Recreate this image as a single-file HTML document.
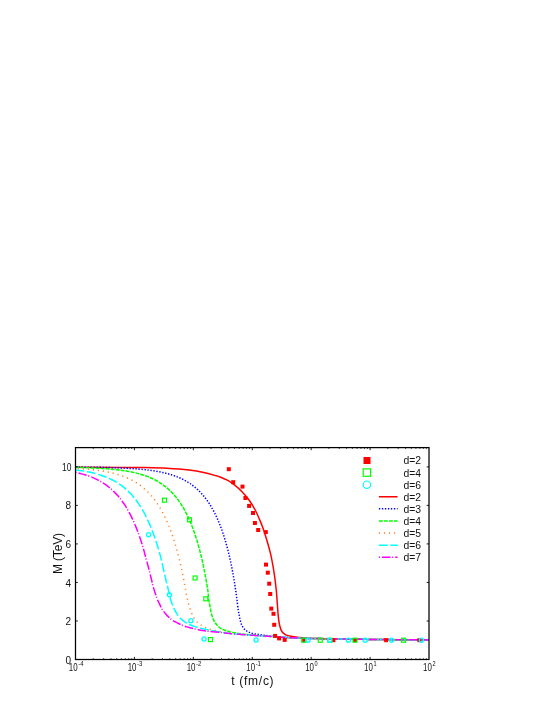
<!DOCTYPE html>
<html><head><meta charset="utf-8"><title>M(t)</title>
<style>html,body{margin:0;padding:0;background:#fff;}body{width:545px;height:705px;position:relative;overflow:hidden;font-family:"Liberation Sans",sans-serif;}</style>
</head><body>
<svg width="545" height="705" viewBox="0 0 545 705" style="position:absolute;left:0;top:0;will-change:transform">
<defs><clipPath id="c"><rect x="75.5" y="447.6" width="353.5" height="211.89999999999998"/></clipPath></defs>
<g clip-path="url(#c)" fill="none" stroke-linecap="butt" stroke-linejoin="round">
<path d="M75.50 467.30 C90.33 467.33 107.29 467.36 120.00 467.40 C129.53 467.43 136.93 467.36 145.00 467.50 C152.57 467.64 159.67 467.77 167.00 468.20 C174.34 468.63 182.42 469.26 189.00 470.10 C194.41 470.79 199.09 471.62 203.70 472.60 C207.87 473.48 212.51 474.75 215.50 475.60 C217.36 476.13 218.34 476.38 220.00 477.00 C222.16 477.81 224.91 478.90 227.30 480.20 C229.82 481.57 232.31 483.24 234.70 485.10 C237.22 487.05 239.64 489.25 242.00 491.70 C244.55 494.34 247.19 497.42 249.40 500.50 C251.58 503.53 253.48 506.77 255.20 510.00 C256.87 513.14 258.33 516.64 259.60 519.60 C260.67 522.10 261.48 524.11 262.40 526.60 C263.42 529.38 264.31 531.96 265.40 535.50 C266.98 540.61 269.21 547.94 270.70 554.40 C272.23 561.06 273.42 568.41 274.40 574.90 C275.27 580.71 275.89 586.28 276.40 591.50 C276.86 596.15 277.07 600.43 277.40 604.70 C277.71 608.72 277.87 612.70 278.30 616.40 C278.69 619.77 279.07 623.23 279.80 626.00 C280.39 628.21 280.91 630.29 282.00 631.80 C282.96 633.12 284.19 634.04 285.70 634.80 C287.51 635.71 289.77 636.02 292.30 636.50 C295.63 637.12 299.87 637.56 304.00 637.90 C308.61 638.29 313.35 638.43 318.70 638.60 C325.14 638.80 332.29 638.78 340.00 638.90 C349.15 639.04 360.00 639.27 370.00 639.40 C380.00 639.53 390.13 639.62 400.00 639.70 C409.62 639.78 419.00 639.83 428.50 639.90" stroke="#ff0000" stroke-width="1.5"/>
<path d="M75.50 467.05 C80.81 467.10 86.04 467.13 91.44 467.21 C97.01 467.29 103.50 467.41 108.44 467.54 C112.25 467.63 115.47 467.74 118.55 467.86 C121.16 467.96 123.52 468.07 125.78 468.19 C127.77 468.29 129.62 468.40 131.40 468.51 C133.01 468.62 134.29 468.70 136.00 468.84 C138.15 469.01 141.00 469.26 143.27 469.49 C145.27 469.70 147.13 469.92 148.92 470.14 C150.53 470.35 151.92 470.54 153.53 470.80 C155.32 471.08 157.39 471.43 159.17 471.78 C160.79 472.09 162.31 472.41 163.78 472.75 C165.13 473.07 166.34 473.37 167.67 473.73 C169.09 474.12 170.59 474.56 172.06 475.04 C173.58 475.53 175.19 476.10 176.65 476.67 C178.00 477.19 179.23 477.71 180.52 478.30 C181.84 478.90 183.17 479.56 184.48 480.26 C185.80 480.97 187.16 481.76 188.40 482.54 C189.59 483.28 190.65 484.00 191.79 484.82 C192.99 485.70 194.24 486.67 195.40 487.65 C196.56 488.62 197.69 489.65 198.75 490.68 C199.78 491.67 200.72 492.65 201.68 493.71 C202.67 494.80 203.66 495.97 204.59 497.12 C205.49 498.24 206.34 499.38 207.17 500.53 C207.97 501.66 208.74 502.79 209.48 503.94 C210.21 505.07 210.89 506.17 211.57 507.35 C212.29 508.57 213.01 509.87 213.69 511.14 C214.35 512.39 214.99 513.66 215.61 514.92 C216.22 516.18 216.80 517.45 217.37 518.71 C217.93 519.97 218.47 521.24 218.99 522.50 C219.51 523.76 220.01 525.02 220.49 526.29 C220.97 527.55 221.44 528.81 221.89 530.08 C222.33 531.34 222.76 532.57 223.19 533.87 C223.64 535.22 224.09 536.64 224.52 538.03 C224.95 539.42 225.36 540.81 225.76 542.20 C226.16 543.59 226.55 544.98 226.92 546.37 C227.30 547.76 227.66 549.14 228.01 550.53 C228.36 551.92 228.70 553.31 229.03 554.70 C229.36 556.09 229.68 557.48 229.99 558.87 C230.30 560.26 230.60 561.65 230.89 563.04 C231.18 564.42 231.47 565.81 231.74 567.20 C232.02 568.59 232.28 569.98 232.54 571.37 C232.80 572.76 233.06 574.15 233.30 575.54 C233.55 576.93 233.78 578.32 234.02 579.70 C234.25 581.09 234.47 582.48 234.69 583.87 C234.91 585.26 235.12 586.65 235.33 588.04 C235.53 589.43 235.74 590.82 235.93 592.21 C236.12 593.59 236.30 594.97 236.50 596.37 C236.69 597.80 236.88 599.00 237.10 600.70 C237.42 603.16 237.88 607.53 238.20 609.70 C238.38 610.94 238.52 611.63 238.70 612.60 C238.88 613.57 239.12 614.53 239.30 615.50 C239.48 616.47 239.60 617.43 239.80 618.40 C240.00 619.39 240.22 620.40 240.50 621.40 C240.79 622.43 241.09 623.52 241.50 624.50 C241.90 625.45 242.36 626.37 242.90 627.20 C243.43 628.00 244.02 628.73 244.70 629.40 C245.41 630.10 246.24 630.77 247.10 631.30 C247.97 631.83 248.96 632.23 249.90 632.60 C250.80 632.96 251.67 633.25 252.60 633.50 C253.57 633.76 254.61 633.93 255.60 634.10 C256.57 634.26 257.50 634.36 258.50 634.50 C259.56 634.65 260.76 634.86 261.80 635.00 C262.72 635.12 263.27 635.17 264.40 635.30 C266.50 635.54 269.97 635.96 273.40 636.30 C277.97 636.75 284.18 637.36 289.40 637.70 C294.37 638.02 299.12 638.15 304.00 638.30 C308.89 638.45 313.35 638.51 318.70 638.60 C325.14 638.71 332.29 638.78 340.00 638.90 C349.15 639.04 360.00 639.27 370.00 639.40 C380.00 639.53 390.13 639.62 400.00 639.70 C409.62 639.78 419.00 639.83 428.50 639.90" stroke="#0000ff" stroke-width="1.5" stroke-dasharray="1.35 1.65"/>
<path d="M75.50 467.44 C76.85 467.47 77.90 467.49 79.55 467.54 C82.17 467.61 86.58 467.74 89.67 467.86 C92.28 467.96 94.64 468.07 96.90 468.19 C98.89 468.29 100.74 468.40 102.52 468.51 C104.13 468.62 105.42 468.70 107.12 468.84 C109.27 469.01 112.13 469.26 114.40 469.49 C116.40 469.70 118.26 469.92 120.05 470.14 C121.67 470.35 123.05 470.54 124.67 470.80 C126.46 471.08 128.53 471.43 130.32 471.78 C131.94 472.09 133.46 472.41 134.93 472.75 C136.29 473.07 137.49 473.37 138.83 473.73 C140.26 474.12 141.75 474.56 143.23 475.04 C144.75 475.53 146.37 476.10 147.83 476.67 C149.18 477.19 150.42 477.71 151.71 478.30 C153.03 478.90 154.37 479.56 155.68 480.26 C157.01 480.97 158.37 481.76 159.63 482.54 C160.81 483.28 161.89 484.00 163.02 484.82 C164.21 485.68 165.45 486.64 166.59 487.59 C167.71 488.52 168.78 489.49 169.81 490.47 C170.80 491.41 171.71 492.34 172.64 493.34 C173.60 494.38 174.57 495.49 175.47 496.58 C176.35 497.64 177.17 498.70 178.00 499.81 C178.85 500.97 179.71 502.20 180.51 503.41 C181.30 504.60 182.05 505.80 182.77 507.00 C183.49 508.19 184.17 509.39 184.83 510.60 C185.48 511.79 186.09 512.96 186.71 514.19 C187.35 515.48 188.00 516.83 188.61 518.15 C189.21 519.46 189.79 520.78 190.35 522.10 C190.91 523.42 191.44 524.74 191.96 526.06 C192.47 527.37 192.97 528.69 193.45 530.01 C193.93 531.33 194.39 532.65 194.84 533.97 C195.29 535.28 195.72 536.60 196.14 537.92 C196.56 539.24 196.96 540.56 197.35 541.88 C197.75 543.19 198.13 544.51 198.50 545.83 C198.87 547.15 199.23 548.47 199.57 549.78 C199.92 551.10 200.26 552.42 200.59 553.74 C200.92 555.06 201.24 556.37 201.55 557.69 C201.86 559.01 202.16 560.33 202.46 561.65 C202.75 562.97 203.04 564.28 203.32 565.60 C203.60 566.92 203.87 568.24 204.14 569.56 C204.40 570.88 204.66 572.19 204.91 573.51 C205.16 574.83 205.41 576.15 205.65 577.47 C205.89 578.78 206.12 580.10 206.35 581.42 C206.58 582.74 206.80 584.06 207.02 585.38 C207.23 586.69 207.44 588.01 207.65 589.33 C207.85 590.65 208.12 591.90 208.25 593.28 C208.39 594.78 208.22 596.52 208.40 598.00 C208.56 599.34 208.92 600.37 209.20 601.80 C209.55 603.63 209.89 605.98 210.30 608.10 C210.72 610.28 211.08 612.58 211.70 614.70 C212.29 616.74 212.98 618.83 213.90 620.60 C214.74 622.23 215.76 623.70 216.90 625.00 C218.00 626.25 219.19 627.40 220.60 628.30 C222.10 629.25 223.92 629.85 225.70 630.50 C227.58 631.19 229.56 631.82 231.60 632.30 C233.72 632.80 235.90 633.06 238.20 633.40 C240.69 633.77 243.38 634.12 246.00 634.40 C248.65 634.69 251.33 634.87 254.00 635.10 C256.67 635.33 259.10 635.57 262.00 635.80 C265.46 636.07 269.28 636.31 273.40 636.60 C278.28 636.94 284.19 637.41 289.40 637.70 C294.38 637.97 299.12 638.15 304.00 638.30 C308.89 638.45 313.35 638.51 318.70 638.60 C325.14 638.71 332.29 638.78 340.00 638.90 C349.15 639.04 360.00 639.27 370.00 639.40 C380.00 639.53 390.13 639.62 400.00 639.70 C409.62 639.78 419.00 639.83 428.50 639.90" stroke="#00ff00" stroke-width="1.5" stroke-dasharray="3.9 1.13"/>
<path d="M75.50 468.32 C78.12 468.49 80.78 468.64 83.35 468.84 C85.82 469.03 88.36 469.26 90.63 469.49 C92.64 469.70 94.50 469.92 96.29 470.14 C97.91 470.35 99.30 470.54 100.91 470.80 C102.71 471.08 104.79 471.43 106.58 471.78 C108.20 472.09 109.73 472.41 111.20 472.75 C112.56 473.07 113.77 473.37 115.11 473.73 C116.55 474.12 118.05 474.56 119.53 475.04 C121.06 475.53 122.68 476.10 124.15 476.67 C125.51 477.19 126.75 477.71 128.05 478.30 C129.38 478.90 130.73 479.56 132.05 480.26 C133.39 480.97 134.76 481.76 136.02 482.54 C137.22 483.28 138.31 484.00 139.45 484.82 C140.65 485.68 141.90 486.64 143.05 487.59 C144.18 488.52 145.27 489.49 146.31 490.47 C147.31 491.41 148.24 492.34 149.18 493.34 C150.15 494.38 151.14 495.49 152.05 496.58 C152.95 497.64 153.78 498.70 154.62 499.81 C155.49 500.97 156.36 502.20 157.18 503.41 C157.98 504.60 158.75 505.80 159.49 507.00 C160.22 508.19 160.91 509.39 161.59 510.60 C162.26 511.79 162.90 512.99 163.52 514.19 C164.13 515.39 164.71 516.56 165.30 517.79 C165.91 519.07 166.52 520.42 167.10 521.74 C167.68 523.06 168.24 524.38 168.78 525.70 C169.31 527.01 169.83 528.33 170.33 529.65 C170.83 530.97 171.31 532.29 171.78 533.61 C172.25 534.92 172.70 536.24 173.14 537.56 C173.58 538.88 174.01 540.20 174.42 541.52 C174.83 542.83 175.23 544.15 175.62 545.47 C176.01 546.79 176.39 548.11 176.76 549.43 C177.13 550.74 177.49 552.06 177.84 553.38 C178.19 554.70 178.53 556.02 178.86 557.33 C179.19 558.65 179.51 559.97 179.83 561.29 C180.14 562.61 180.45 563.92 180.75 565.24 C181.05 566.56 181.34 567.88 181.62 569.20 C181.91 570.52 182.19 571.83 182.46 573.15 C182.73 574.47 183.00 575.79 183.26 577.11 C183.51 578.42 183.77 579.74 184.02 581.06 C184.26 582.38 184.51 583.70 184.74 585.02 C184.98 586.33 185.21 587.65 185.44 588.97 C185.66 590.29 185.82 591.44 186.10 592.93 C186.47 594.86 187.03 597.56 187.50 599.60 C187.90 601.34 188.25 602.80 188.70 604.40 C189.15 606.03 189.65 607.68 190.20 609.30 C190.75 610.92 191.32 612.55 192.00 614.10 C192.66 615.62 193.31 617.12 194.20 618.50 C195.10 619.89 196.19 621.26 197.40 622.40 C198.60 623.53 200.01 624.42 201.40 625.30 C202.80 626.19 204.27 627.02 205.80 627.70 C207.34 628.39 208.99 628.93 210.60 629.40 C212.19 629.86 213.77 630.14 215.40 630.50 C217.10 630.87 218.91 631.28 220.60 631.60 C222.20 631.91 223.59 632.11 225.30 632.40 C227.34 632.74 229.44 633.16 232.00 633.50 C235.42 633.95 239.79 634.35 244.00 634.70 C248.65 635.09 253.80 635.38 258.70 635.70 C263.60 636.02 268.40 636.27 273.40 636.60 C278.62 636.94 284.19 637.41 289.40 637.70 C294.38 637.97 299.12 638.15 304.00 638.30 C308.89 638.45 313.35 638.51 318.70 638.60 C325.14 638.71 332.29 638.78 340.00 638.90 C349.15 639.04 360.00 639.27 370.00 639.40 C380.00 639.53 390.13 639.62 400.00 639.70 C409.62 639.78 419.00 639.83 428.50 639.90" stroke="#ff8020" stroke-width="1.5" stroke-dasharray="1.2 3.83" stroke-dashoffset="2.83"/>
<path d="M75.50 469.94 C76.84 470.11 78.16 470.28 79.51 470.47 C80.91 470.67 82.27 470.87 83.76 471.12 C85.43 471.41 87.37 471.76 89.04 472.10 C90.57 472.41 91.92 472.71 93.41 473.08 C94.99 473.47 96.73 473.93 98.27 474.38 C99.70 474.80 100.98 475.21 102.35 475.69 C103.78 476.19 105.30 476.76 106.67 477.32 C107.96 477.85 109.13 478.36 110.36 478.95 C111.63 479.56 112.92 480.21 114.18 480.91 C115.46 481.62 116.79 482.41 118.01 483.19 C119.17 483.93 120.22 484.66 121.33 485.47 C122.48 486.32 123.65 487.24 124.76 488.17 C125.85 489.09 126.92 490.05 127.93 491.02 C128.91 491.95 129.83 492.88 130.75 493.86 C131.68 494.86 132.59 495.89 133.47 496.94 C134.37 498.02 135.27 499.15 136.11 500.26 C136.94 501.36 137.71 502.45 138.49 503.58 C139.28 504.74 140.07 505.95 140.81 507.14 C141.54 508.32 142.25 509.50 142.93 510.70 C143.60 511.88 144.24 513.04 144.87 514.25 C145.53 515.49 146.17 516.78 146.79 518.05 C147.40 519.31 147.99 520.57 148.56 521.84 C149.13 523.10 149.68 524.36 150.22 525.63 C150.75 526.89 151.26 528.16 151.76 529.43 C152.26 530.69 152.74 531.95 153.21 533.22 C153.67 534.48 154.13 535.75 154.57 537.01 C155.01 538.28 155.43 539.52 155.85 540.81 C156.29 542.13 156.72 543.49 157.14 544.84 C157.56 546.18 157.97 547.52 158.36 548.87 C158.76 550.21 159.14 551.55 159.52 552.90 C159.89 554.24 160.14 555.03 160.62 556.93 C161.75 561.46 164.49 574.13 165.90 580.00 C166.77 583.63 167.38 585.82 168.10 588.80 C168.85 591.88 169.65 595.71 170.30 598.20 C170.74 599.85 171.01 600.93 171.50 602.30 C172.01 603.73 172.75 605.28 173.30 606.60 C173.77 607.72 174.07 608.62 174.60 609.70 C175.21 610.94 175.88 612.26 176.80 613.60 C177.92 615.23 179.58 617.26 181.00 618.70 C182.22 619.93 183.32 620.84 184.70 621.80 C186.22 622.86 188.00 623.86 189.80 624.70 C191.66 625.57 193.72 626.28 195.70 626.90 C197.65 627.51 199.45 627.90 201.60 628.40 C204.15 629.00 207.07 629.62 210.00 630.20 C213.18 630.83 216.72 631.44 220.00 632.00 C223.18 632.54 225.91 633.08 229.40 633.50 C233.72 634.02 239.12 634.33 244.00 634.70 C248.89 635.07 253.80 635.38 258.70 635.70 C263.60 636.02 268.40 636.27 273.40 636.60 C278.62 636.94 284.19 637.41 289.40 637.70 C294.38 637.97 299.12 638.15 304.00 638.30 C308.89 638.45 313.35 638.51 318.70 638.60 C325.14 638.71 332.29 638.78 340.00 638.90 C349.15 639.04 360.00 639.27 370.00 639.40 C380.00 639.53 390.13 639.62 400.00 639.70 C409.62 639.78 419.00 639.83 428.50 639.90" stroke="#00ffff" stroke-width="1.5" stroke-dasharray="8.9 2.65"/>
<path d="M75.50 472.30 C77.07 472.67 78.66 473.00 80.22 473.41 C81.78 473.81 83.38 474.26 84.85 474.71 C86.22 475.13 87.45 475.54 88.77 476.02 C90.14 476.51 91.55 477.06 92.94 477.65 C94.35 478.25 95.82 478.93 97.17 479.60 C98.43 480.24 99.59 480.86 100.79 481.56 C102.02 482.27 103.24 483.03 104.45 483.84 C105.69 484.68 106.96 485.60 108.13 486.51 C109.26 487.39 110.32 488.27 111.37 489.20 C112.43 490.14 113.47 491.13 114.46 492.12 C115.41 493.08 116.30 494.03 117.20 495.03 C118.10 496.05 118.98 497.10 119.84 498.17 C120.71 499.26 121.58 500.40 122.39 501.53 C123.19 502.65 123.95 503.75 124.70 504.90 C125.46 506.07 126.22 507.28 126.93 508.48 C127.64 509.67 128.32 510.87 128.98 512.07 C129.63 513.26 130.25 514.44 130.86 515.66 C131.49 516.91 132.12 518.20 132.71 519.47 C133.30 520.74 133.87 522.01 134.42 523.28 C134.97 524.55 135.50 525.82 136.02 527.09 C136.53 528.36 137.03 529.63 137.51 530.91 C137.99 532.17 138.45 533.44 138.91 534.72 C139.36 535.99 139.80 537.26 140.22 538.53 C140.65 539.80 141.05 541.05 141.46 542.34 C141.88 543.66 142.30 545.03 142.71 546.38 C143.11 547.72 143.49 548.98 143.88 550.41 C144.32 552.01 144.65 553.43 145.20 555.50 C146.06 558.75 147.52 563.87 148.60 568.00 C149.65 572.04 150.86 576.90 151.60 580.00 C152.07 581.96 152.26 583.10 152.70 584.80 C153.20 586.74 153.85 588.91 154.50 591.00 C155.18 593.17 155.88 595.48 156.70 597.60 C157.49 599.64 158.39 601.54 159.30 603.50 C160.22 605.48 161.09 607.63 162.20 609.40 C163.22 611.03 164.41 612.42 165.60 613.80 C166.75 615.14 168.21 616.61 169.20 617.60 C169.86 618.26 170.20 618.66 170.90 619.20 C171.83 619.92 173.11 620.67 174.40 621.40 C175.92 622.26 178.07 623.34 179.50 624.00 C180.50 624.47 181.10 624.70 182.10 625.10 C183.45 625.64 185.32 626.41 186.90 626.90 C188.39 627.36 189.90 627.65 191.30 628.00 C192.59 628.32 193.71 628.60 195.00 628.90 C196.40 629.23 197.87 629.61 199.40 629.90 C201.03 630.21 202.94 630.45 204.50 630.70 C205.83 630.91 206.61 631.10 208.20 631.30 C211.02 631.66 216.29 632.01 220.00 632.40 C223.31 632.75 225.92 633.15 229.40 633.50 C233.73 633.93 239.12 634.33 244.00 634.70 C248.89 635.07 253.80 635.38 258.70 635.70 C263.60 636.02 268.40 636.27 273.40 636.60 C278.62 636.94 284.19 637.41 289.40 637.70 C294.38 637.97 299.12 638.15 304.00 638.30 C308.89 638.45 313.35 638.51 318.70 638.60 C325.14 638.71 332.29 638.78 340.00 638.90 C349.15 639.04 360.00 639.27 370.00 639.40 C380.00 639.53 390.13 639.62 400.00 639.70 C409.62 639.78 419.00 639.83 428.50 639.90" stroke="#ff00ff" stroke-width="1.5" stroke-dasharray="1.1 2.0 8.5 1.6"/>
</g>
<g>
<rect x="226.80" y="467.20" width="4.0" height="4.0" fill="#ff0000"/>
<rect x="231.20" y="480.20" width="4.0" height="4.0" fill="#ff0000"/>
<rect x="240.50" y="484.60" width="4.0" height="4.0" fill="#ff0000"/>
<rect x="243.40" y="496.00" width="4.0" height="4.0" fill="#ff0000"/>
<rect x="247.10" y="503.90" width="4.0" height="4.0" fill="#ff0000"/>
<rect x="251.00" y="511.00" width="4.0" height="4.0" fill="#ff0000"/>
<rect x="252.90" y="521.00" width="4.0" height="4.0" fill="#ff0000"/>
<rect x="256.20" y="528.00" width="4.0" height="4.0" fill="#ff0000"/>
<rect x="263.80" y="530.10" width="4.0" height="4.0" fill="#ff0000"/>
<rect x="264.00" y="562.60" width="4.0" height="4.0" fill="#ff0000"/>
<rect x="265.80" y="570.70" width="4.0" height="4.0" fill="#ff0000"/>
<rect x="267.20" y="581.70" width="4.0" height="4.0" fill="#ff0000"/>
<rect x="268.20" y="592.00" width="4.0" height="4.0" fill="#ff0000"/>
<rect x="269.30" y="606.60" width="4.0" height="4.0" fill="#ff0000"/>
<rect x="271.50" y="611.80" width="4.0" height="4.0" fill="#ff0000"/>
<rect x="272.20" y="622.80" width="4.0" height="4.0" fill="#ff0000"/>
<rect x="273.10" y="633.90" width="4.0" height="4.0" fill="#ff0000"/>
<rect x="277.10" y="636.40" width="4.0" height="4.0" fill="#ff0000"/>
<rect x="282.70" y="637.90" width="4.0" height="4.0" fill="#ff0000"/>
<rect x="301.70" y="638.20" width="4.0" height="4.0" fill="#ff0000"/>
<rect x="331.40" y="638.20" width="4.0" height="4.0" fill="#ff0000"/>
<rect x="353.00" y="638.20" width="4.0" height="4.0" fill="#ff0000"/>
<rect x="384.10" y="638.20" width="4.0" height="4.0" fill="#ff0000"/>
<rect x="417.40" y="638.20" width="4.0" height="4.0" fill="#ff0000"/>
<rect x="162.50" y="498.20" width="4.0" height="4.0" fill="none" stroke="#00ff00" stroke-width="1.2"/>
<rect x="187.50" y="517.80" width="4.0" height="4.0" fill="none" stroke="#00ff00" stroke-width="1.2"/>
<rect x="193.10" y="576.00" width="4.0" height="4.0" fill="none" stroke="#00ff00" stroke-width="1.2"/>
<rect x="203.80" y="596.80" width="4.0" height="4.0" fill="none" stroke="#00ff00" stroke-width="1.2"/>
<rect x="208.50" y="637.60" width="4.0" height="4.0" fill="none" stroke="#00ff00" stroke-width="1.2"/>
<rect x="301.80" y="638.20" width="4.0" height="4.0" fill="none" stroke="#00ff00" stroke-width="1.2"/>
<rect x="318.30" y="638.20" width="4.0" height="4.0" fill="none" stroke="#00ff00" stroke-width="1.2"/>
<rect x="327.80" y="638.20" width="4.0" height="4.0" fill="none" stroke="#00ff00" stroke-width="1.2"/>
<rect x="353.00" y="638.20" width="4.0" height="4.0" fill="none" stroke="#00ff00" stroke-width="1.2"/>
<rect x="401.60" y="638.20" width="4.0" height="4.0" fill="none" stroke="#00ff00" stroke-width="1.2"/>
<circle cx="148.60" cy="534.70" r="2.05" fill="none" stroke="#00ffff" stroke-width="1.3"/>
<circle cx="169.40" cy="594.80" r="2.05" fill="none" stroke="#00ffff" stroke-width="1.3"/>
<circle cx="190.90" cy="620.70" r="2.05" fill="none" stroke="#00ffff" stroke-width="1.3"/>
<circle cx="204.10" cy="639.00" r="2.05" fill="none" stroke="#00ffff" stroke-width="1.3"/>
<circle cx="256.10" cy="640.00" r="2.05" fill="none" stroke="#00ffff" stroke-width="1.3"/>
<circle cx="308.10" cy="640.20" r="2.05" fill="none" stroke="#00ffff" stroke-width="1.3"/>
<circle cx="329.80" cy="640.20" r="2.05" fill="none" stroke="#00ffff" stroke-width="1.3"/>
<circle cx="348.40" cy="640.20" r="2.05" fill="none" stroke="#00ffff" stroke-width="1.3"/>
<circle cx="365.20" cy="640.20" r="2.05" fill="none" stroke="#00ffff" stroke-width="1.3"/>
<circle cx="391.60" cy="640.20" r="2.05" fill="none" stroke="#00ffff" stroke-width="1.3"/>
<circle cx="421.40" cy="640.20" r="2.05" fill="none" stroke="#00ffff" stroke-width="1.3"/>
</g>
<rect x="75.5" y="447.6" width="353.5" height="211.89999999999998" fill="none" stroke="#000000" stroke-width="1.25"/>
<path d="M93.24 659.5 v-1.2 M93.24 447.6 v1.2 M103.61 659.5 v-1.2 M103.61 447.6 v1.2 M110.97 659.5 v-1.2 M110.97 447.6 v1.2 M116.68 659.5 v-1.2 M116.68 447.6 v1.2 M121.35 659.5 v-1.2 M121.35 447.6 v1.2 M125.29 659.5 v-1.2 M125.29 447.6 v1.2 M128.71 659.5 v-1.2 M128.71 447.6 v1.2 M131.72 659.5 v-1.2 M131.72 447.6 v1.2 M134.42 659.5 v-2.6 M134.42 447.6 v2.6 M152.15 659.5 v-1.2 M152.15 447.6 v1.2 M162.53 659.5 v-1.2 M162.53 447.6 v1.2 M169.89 659.5 v-1.2 M169.89 447.6 v1.2 M175.60 659.5 v-1.2 M175.60 447.6 v1.2 M180.26 659.5 v-1.2 M180.26 447.6 v1.2 M184.21 659.5 v-1.2 M184.21 447.6 v1.2 M187.62 659.5 v-1.2 M187.62 447.6 v1.2 M190.64 659.5 v-1.2 M190.64 447.6 v1.2 M193.33 659.5 v-2.6 M193.33 447.6 v2.6 M211.07 659.5 v-1.2 M211.07 447.6 v1.2 M221.44 659.5 v-1.2 M221.44 447.6 v1.2 M228.80 659.5 v-1.2 M228.80 447.6 v1.2 M234.51 659.5 v-1.2 M234.51 447.6 v1.2 M239.18 659.5 v-1.2 M239.18 447.6 v1.2 M243.12 659.5 v-1.2 M243.12 447.6 v1.2 M246.54 659.5 v-1.2 M246.54 447.6 v1.2 M249.55 659.5 v-1.2 M249.55 447.6 v1.2 M252.25 659.5 v-2.6 M252.25 447.6 v2.6 M269.99 659.5 v-1.2 M269.99 447.6 v1.2 M280.36 659.5 v-1.2 M280.36 447.6 v1.2 M287.72 659.5 v-1.2 M287.72 447.6 v1.2 M293.43 659.5 v-1.2 M293.43 447.6 v1.2 M298.10 659.5 v-1.2 M298.10 447.6 v1.2 M302.04 659.5 v-1.2 M302.04 447.6 v1.2 M305.46 659.5 v-1.2 M305.46 447.6 v1.2 M308.47 659.5 v-1.2 M308.47 447.6 v1.2 M311.17 659.5 v-2.6 M311.17 447.6 v2.6 M328.90 659.5 v-1.2 M328.90 447.6 v1.2 M339.28 659.5 v-1.2 M339.28 447.6 v1.2 M346.64 659.5 v-1.2 M346.64 447.6 v1.2 M352.35 659.5 v-1.2 M352.35 447.6 v1.2 M357.01 659.5 v-1.2 M357.01 447.6 v1.2 M360.96 659.5 v-1.2 M360.96 447.6 v1.2 M364.37 659.5 v-1.2 M364.37 447.6 v1.2 M367.39 659.5 v-1.2 M367.39 447.6 v1.2 M370.08 659.5 v-2.6 M370.08 447.6 v2.6 M387.82 659.5 v-1.2 M387.82 447.6 v1.2 M398.19 659.5 v-1.2 M398.19 447.6 v1.2 M405.55 659.5 v-1.2 M405.55 447.6 v1.2 M411.26 659.5 v-1.2 M411.26 447.6 v1.2 M415.93 659.5 v-1.2 M415.93 447.6 v1.2 M419.87 659.5 v-1.2 M419.87 447.6 v1.2 M423.29 659.5 v-1.2 M423.29 447.6 v1.2 M426.30 659.5 v-1.2 M426.30 447.6 v1.2 M75.5 620.97 h2.3 M429.0 620.97 h-2.3 M75.5 582.45 h2.3 M429.0 582.45 h-2.3 M75.5 543.92 h2.3 M429.0 543.92 h-2.3 M75.5 505.39 h2.3 M429.0 505.39 h-2.3 M75.5 466.86 h2.3 M429.0 466.86 h-2.3" stroke="#000000" stroke-width="0.9" fill="none"/>
<rect x="363.5" y="457.00" width="7" height="7" fill="#ff0000"/>
<rect x="363.2" y="468.89" width="7.4" height="7.4" fill="none" stroke="#00ff00" stroke-width="1.2"/>
<circle cx="366.9" cy="484.68" r="3.7" fill="none" stroke="#00ffff" stroke-width="1.2"/>
<path d="M378.9 496.77 H397.6" stroke="#ff0000" stroke-width="1.5" fill="none"/>
<path d="M378.9 508.86 H397.6" stroke="#0000ff" stroke-width="1.5" fill="none" stroke-dasharray="1.35 1.65"/>
<path d="M378.9 520.95 H397.6" stroke="#00ff00" stroke-width="1.5" fill="none" stroke-dasharray="3.9 1.13"/>
<path d="M378.9 533.04 H397.6" stroke="#ff8020" stroke-width="1.5" fill="none" stroke-dasharray="1.2 3.83"/>
<path d="M378.9 545.13 H397.6" stroke="#00ffff" stroke-width="1.5" fill="none" stroke-dasharray="8.9 2.65"/>
<path d="M378.9 557.22 H397.6" stroke="#ff00ff" stroke-width="1.5" fill="none" stroke-dasharray="1.1 2.0 8.5 1.6"/>
<g font-family="Liberation Sans, sans-serif" fill="#111111" opacity="0.999">
<text x="403.4" y="464.45" font-size="10" textLength="17.6" lengthAdjust="spacingAndGlyphs">d=2</text>
<text x="403.4" y="476.54" font-size="10" textLength="17.6" lengthAdjust="spacingAndGlyphs">d=4</text>
<text x="403.4" y="488.63" font-size="10" textLength="17.6" lengthAdjust="spacingAndGlyphs">d=6</text>
<text x="403.4" y="500.72" font-size="10" textLength="17.6" lengthAdjust="spacingAndGlyphs">d=2</text>
<text x="403.4" y="512.81" font-size="10" textLength="17.6" lengthAdjust="spacingAndGlyphs">d=3</text>
<text x="403.4" y="524.90" font-size="10" textLength="17.6" lengthAdjust="spacingAndGlyphs">d=4</text>
<text x="403.4" y="536.99" font-size="10" textLength="17.6" lengthAdjust="spacingAndGlyphs">d=5</text>
<text x="403.4" y="549.08" font-size="10" textLength="17.6" lengthAdjust="spacingAndGlyphs">d=6</text>
<text x="403.4" y="561.17" font-size="10" textLength="17.6" lengthAdjust="spacingAndGlyphs">d=7</text>
<text x="71" y="663.60" font-size="10" text-anchor="end">0</text>
<text x="71" y="625.07" font-size="10" text-anchor="end">2</text>
<text x="71" y="586.55" font-size="10" text-anchor="end">4</text>
<text x="71" y="548.02" font-size="10" text-anchor="end">6</text>
<text x="71" y="509.49" font-size="10" text-anchor="end">8</text>
<text x="71.4" y="470.96" font-size="10" text-anchor="end" textLength="9.4" lengthAdjust="spacingAndGlyphs">10</text>
<text x="68.80" y="670.8" font-size="10" textLength="8.8" lengthAdjust="spacingAndGlyphs">10</text>
<text x="78.20" y="666.0" font-size="7" textLength="5.3" lengthAdjust="spacingAndGlyphs">-4</text>
<text x="127.72" y="670.8" font-size="10" textLength="8.8" lengthAdjust="spacingAndGlyphs">10</text>
<text x="137.12" y="666.0" font-size="7" textLength="5.3" lengthAdjust="spacingAndGlyphs">-3</text>
<text x="186.63" y="670.8" font-size="10" textLength="8.8" lengthAdjust="spacingAndGlyphs">10</text>
<text x="196.03" y="666.0" font-size="7" textLength="5.3" lengthAdjust="spacingAndGlyphs">-2</text>
<text x="246.25" y="670.8" font-size="10" textLength="8.8" lengthAdjust="spacingAndGlyphs">10</text>
<text x="255.65" y="666.0" font-size="7" textLength="5.3" lengthAdjust="spacingAndGlyphs">-1</text>
<text x="305.17" y="670.8" font-size="10" textLength="8.8" lengthAdjust="spacingAndGlyphs">10</text>
<text x="314.57" y="666.0" font-size="7" textLength="3.1" lengthAdjust="spacingAndGlyphs">0</text>
<text x="364.08" y="670.8" font-size="10" textLength="8.8" lengthAdjust="spacingAndGlyphs">10</text>
<text x="373.48" y="666.0" font-size="7" textLength="3.1" lengthAdjust="spacingAndGlyphs">1</text>
<text x="423.00" y="670.8" font-size="10" textLength="8.8" lengthAdjust="spacingAndGlyphs">10</text>
<text x="432.40" y="666.0" font-size="7" textLength="3.1" lengthAdjust="spacingAndGlyphs">2</text>
<text x="252.4" y="685.4" font-size="12" text-anchor="middle" textLength="42.4" lengthAdjust="spacing">t (fm/c)</text>
<text transform="translate(62.1 553.5) rotate(-90)" font-size="12" text-anchor="middle" textLength="41.2" lengthAdjust="spacing">M (TeV)</text>
</g>
</svg>
</body></html>
